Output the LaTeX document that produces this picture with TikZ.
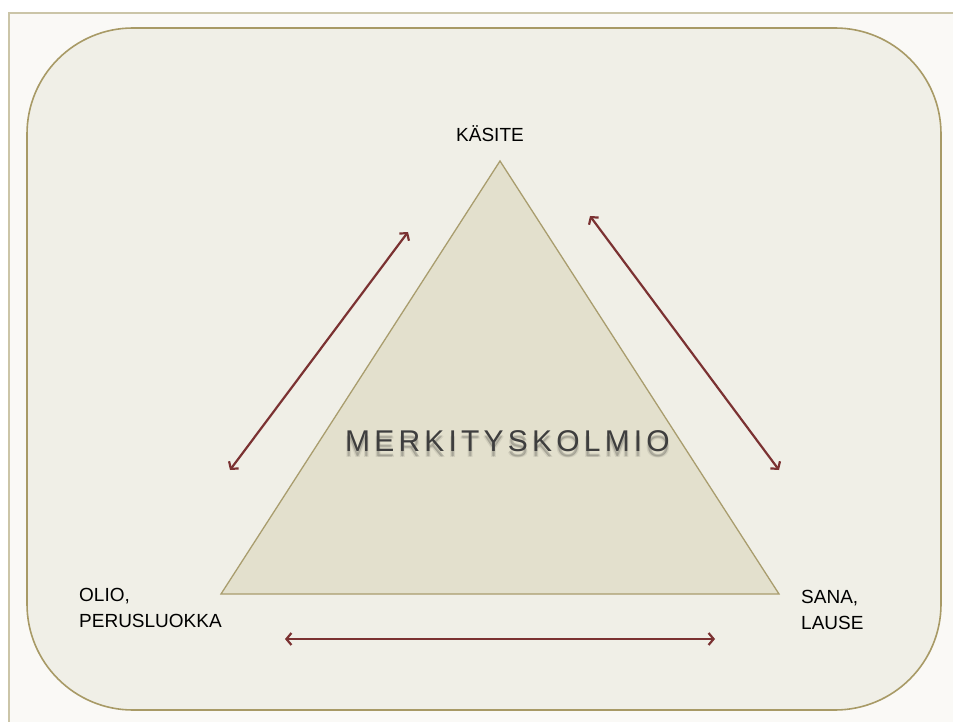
\documentclass[tikz,border=0pt]{standalone}
\usepackage{fontspec}
\setmainfont{Liberation Sans}
\newfontfamily\titlefont[LetterSpace=14]{Liberation Sans}
\usetikzlibrary{arrows.meta}

\definecolor{pagebg}{HTML}{FAF9F6}
\definecolor{pageline}{HTML}{CBC5A8}
\definecolor{panelfill}{HTML}{F0EFE7}
\definecolor{panelline}{HTML}{A89A66}
\definecolor{trifill}{HTML}{E3E0CD}
\definecolor{triline}{HTML}{A99D6E}
\definecolor{arrowred}{HTML}{7B3232}
\definecolor{titlegray}{HTML}{3E3E3E}

\tikzset{
  cornerlabel/.style={font=\fontsize{19}{26}\selectfont, text=black, align=left, inner sep=0pt},
  relation/.style={draw=arrowred, line width=2.2pt,
    {Straight Barb[length=5pt,width=12pt]}-{Straight Barb[length=5pt,width=12pt]}},
  titletext/.style={font=\titlefont\fontsize{30}{30}\selectfont, inner sep=0pt, anchor=west},
}

\begin{document}
\begin{tikzpicture}[x=1pt,y=-1pt]
  \useasboundingbox (0,0) rectangle (953,722);
  \fill[white] (0,0) rectangle (953,722);
  \begin{scope}
    \clip (0,0) rectangle (953,722);
    % page sheet
    \draw[fill=pagebg, draw=pageline, line width=1.5pt] (9,13) rectangle (980,760);
  \end{scope}

  % rounded panel
  \draw[fill=panelfill, draw=panelline, line width=1.6pt, rounded corners=106pt]
    (27,28) rectangle (941,710);

  % triangle
  \coordinate (top) at (500,161);
  \coordinate (bl) at (221,594);
  \coordinate (br) at (779,594);
  \draw[fill=trifill, draw=triline, line width=1.3pt, line join=miter] (top) -- (br) -- (bl) -- cycle;

  % title with soft shadow
  \foreach \dx/\dy/\op in {0/5/0.14, 1/6/0.08, -1/6/0.08}{
    \node[titletext, text=black, opacity=\op] at (345+\dx,441+\dy) {MERKITYSKOLMIO};
  }
  \node[titletext, text=titlegray] (title) at (345,441) {MERKITYSKOLMIO};

  % corner labels
  \node[cornerlabel, anchor=center] (kasite) at (490,134) {KÄSITE};
  \node[cornerlabel, anchor=north west] (olio) at (79,588) {OLIO,\\PERUSLUOKKA};
  \node[cornerlabel, anchor=north west] (sana) at (801,590) {SANA,\\LAUSE};

  % relation arrows
  \coordinate (l1) at (230,470);
  \coordinate (l2) at (408,232);
  \coordinate (r1) at (590,216);
  \coordinate (r2) at (779,470);
  \coordinate (b1) at (285,639);
  \coordinate (b2) at (715,639);
  \draw[relation] (l1) -- (l2);
  \draw[relation] (r1) -- (r2);
  \draw[relation] (b1) -- (b2);
\end{tikzpicture}
\end{document}
